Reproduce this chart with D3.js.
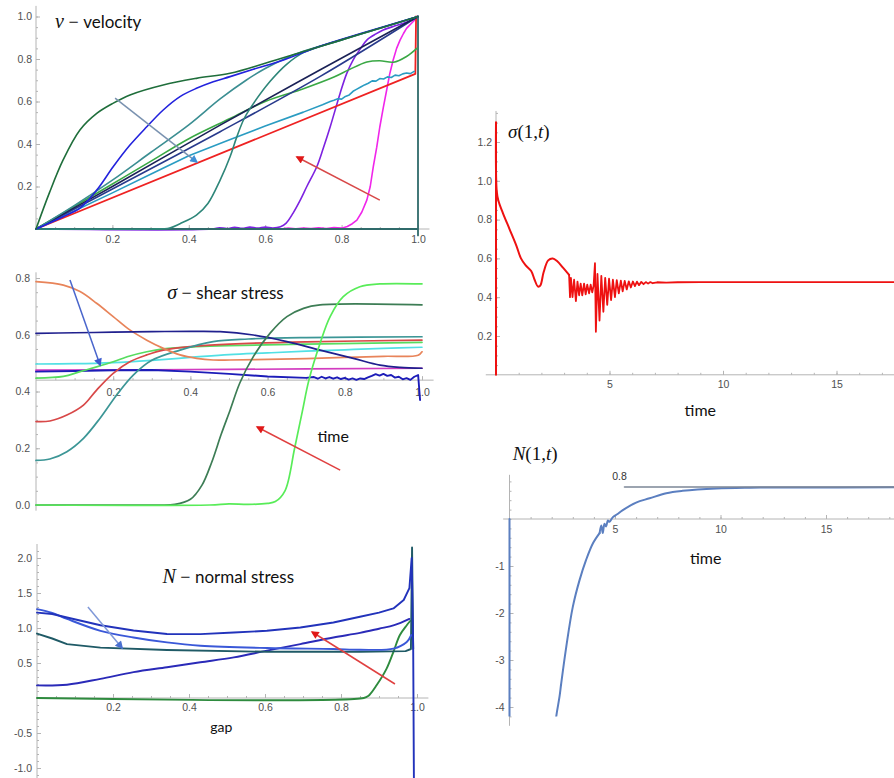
<!DOCTYPE html>
<html><head><meta charset="utf-8">
<script src="https://cdn.jsdelivr.net/npm/d3@7"></script>
<style>body{margin:0;background:#fff}svg{display:block}</style>
</head><body>
<svg id="c" width="894" height="778"></svg>
<script>
// ================= DATA =================
// Panel 1: velocity v(x) profiles across the gap
const velTicksX=[0.2,0.4,0.6,0.8,1.0];
const velTicksY=[0.2,0.4,0.6,0.8,1.0];
const velTealFlat=[[0,0],[1,0],[1,-0.03],[1,1]];
const velMagenta=[[0,0],[0.64,0],[0.66,0.004],[0.68,0.001],[0.7,0.005],[0.72,0.002],[0.74,0.006],[0.76,0.002],[0.78,0.007],[0.8,0.004],[0.815,0.012],[0.828,0.025],[0.84,0.042],[0.853,0.08],[0.866,0.136],[0.875,0.2],[0.883,0.293],[0.892,0.385],[0.9,0.48],[0.909,0.57],[0.918,0.654],[0.926,0.73],[0.935,0.795],[0.944,0.85],[0.953,0.889],[0.962,0.92],[0.97,0.944],[0.985,0.972],[0.995,0.99]];
const velPurple=[[0,0],[0.46,0],[0.48,0.006],[0.5,0.002],[0.52,0.008],[0.54,0.003],[0.56,0.009],[0.58,0.004],[0.6,0.009],[0.62,0.005],[0.64,0.011],[0.655,0.028],[0.673,0.075],[0.69,0.13],[0.709,0.2],[0.735,0.293],[0.752,0.38],[0.77,0.48],[0.796,0.638],[0.813,0.73],[0.83,0.795],[0.85,0.85],[0.866,0.889],[0.89,0.918],[0.909,0.936],[0.935,0.953],[0.962,0.968],[0.985,0.985],[1,1]];
const velDarkGreen=[[0,0],[0.035,0.17],[0.071,0.325],[0.115,0.466],[0.159,0.544],[0.2,0.59],[0.246,0.631],[0.333,0.678],[0.42,0.709],[0.508,0.733],[0.6,0.78],[0.7,0.835],[0.8,0.89],[0.9,0.945],[1,1]];
const velBlue=[[0,0],[0.071,0.058],[0.115,0.098],[0.159,0.183],[0.202,0.293],[0.246,0.395],[0.29,0.481],[0.333,0.56],[0.377,0.623],[0.42,0.662],[0.464,0.693],[0.508,0.717],[0.569,0.752],[0.65,0.797],[0.743,0.86],[0.85,0.92],[1,1]];
const velTealC=[[0,0],[0.1,0.11],[0.2,0.23],[0.3,0.36],[0.4,0.49],[0.482,0.612],[0.55,0.7],[0.6,0.755],[0.65,0.8],[0.7,0.836],[0.8,0.89],[0.9,0.945],[1,1]];
const velTealD=[[0,0],[0.3,0],[0.35,0.005],[0.377,0.025],[0.42,0.065],[0.45,0.12],[0.482,0.23],[0.508,0.34],[0.525,0.43],[0.545,0.52],[0.569,0.59],[0.613,0.695],[0.656,0.775],[0.7,0.83],[0.8,0.89],[0.9,0.945],[1,1]];
const velGreen=[[0,0],[0.1,0.106],[0.2,0.212],[0.3,0.318],[0.4,0.425],[0.508,0.52],[0.6,0.6],[0.7,0.66],[0.78,0.715],[0.82,0.75],[0.866,0.786],[0.9,0.792],[0.936,0.785],[0.97,0.812],[0.997,0.85]];
const velNavy1=[[0,0],[0.2,0.2],[0.482,0.489],[0.743,0.748],[1,1]];
const velNavy2=[[0,0],[0.2,0.188],[0.482,0.458],[0.743,0.717],[1,1]];
const velCyan=[[0,0],[0.1,0.085],[0.2,0.17],[0.3,0.258],[0.4,0.345],[0.5,0.415],[0.6,0.485],[0.7,0.55],[0.75,0.585],[0.77,0.6],[0.78,0.606],[0.79,0.613],[0.8,0.611],[0.81,0.624],[0.82,0.631],[0.83,0.648],[0.84,0.658],[0.85,0.668],[0.86,0.678],[0.87,0.686],[0.88,0.697],[0.89,0.696],[0.9,0.708],[0.91,0.706],[0.92,0.716],[0.93,0.713],[0.94,0.724],[0.95,0.721],[0.96,0.73],[0.97,0.734],[0.98,0.731],[0.99,0.742]];
const velRed=[[0,0],[0.993,0.73],[0.995,1.0]];
const velArrowBlue=[[0.207,0.616],[0.421,0.315]];
const velArrowRed=[[0.9,0.136],[0.683,0.339]];

// Panel 2: shear stress sigma(x)
const shTicksX=[0.2,0.4,0.6,0.8,1.0];
const shTicksY=[0.0,0.2,0.4,0.6,0.8];
const shOrange=[[0,0.787],[0.071,0.775],[0.114,0.752],[0.157,0.711],[0.2,0.664],[0.243,0.617],[0.287,0.581],[0.33,0.552],[0.373,0.529],[0.416,0.517],[0.459,0.511],[0.503,0.511],[0.6,0.513],[0.7,0.516],[0.8,0.52],[0.9,0.524],[0.99,0.528],[1.0,0.54]];
const shNavy=[[0,0.605],[0.1,0.607],[0.2,0.609],[0.3,0.611],[0.4,0.612],[0.477,0.611],[0.563,0.599],[0.65,0.576],[0.736,0.546],[0.822,0.517],[0.891,0.493],[0.943,0.485],[1.0,0.482]];
const shCyan=[[0,0.497],[0.1,0.498],[0.2,0.502],[0.3,0.51],[0.4,0.52],[0.5,0.53],[0.6,0.536],[0.7,0.542],[0.8,0.547],[0.9,0.552],[1.0,0.556]];
const shLightGreen=[[0,0.447],[0.071,0.453],[0.114,0.47],[0.157,0.487],[0.2,0.505],[0.243,0.525],[0.287,0.54],[0.33,0.55],[0.416,0.558],[0.5,0.562],[0.7,0.567],[1.0,0.573]];
const shRed=[[0,0.294],[0.036,0.296],[0.08,0.317],[0.123,0.352],[0.157,0.405],[0.2,0.464],[0.243,0.505],[0.287,0.529],[0.33,0.546],[0.416,0.56],[0.503,0.567],[0.7,0.575],[1.0,0.581]];
const shTeal=[[0,0.157],[0.036,0.162],[0.08,0.188],[0.123,0.235],[0.166,0.306],[0.209,0.388],[0.252,0.458],[0.3,0.51],[0.373,0.546],[0.459,0.576],[0.55,0.585],[0.7,0.59],[1.0,0.593]];
const shDarkGreen=[[0,0],[0.3,0],[0.36,0.002],[0.4,0.02],[0.43,0.07],[0.455,0.15],[0.48,0.25],[0.503,0.335],[0.528,0.43],[0.563,0.523],[0.606,0.605],[0.65,0.664],[0.693,0.693],[0.736,0.705],[1.0,0.705]];
const shBrightGreen=[[0,0],[0.45,0],[0.5,0.004],[0.55,0.002],[0.6,0.006],[0.62,0.012],[0.645,0.05],[0.67,0.2],[0.69,0.33],[0.707,0.44],[0.736,0.57],[0.762,0.664],[0.796,0.734],[0.839,0.769],[0.891,0.779],[1.0,0.779]];
const shMagenta=[[0,0.475],[0.5,0.478],[1.0,0.482]];
const shDarkBlue=[[0,0.47],[0.1,0.472],[0.2,0.475],[0.3,0.476],[0.4,0.47],[0.5,0.462],[0.6,0.453],[0.7,0.448],[0.72,0.451],[0.73,0.445],[0.74,0.452],[0.75,0.446],[0.76,0.451],[0.77,0.445],[0.78,0.45],[0.79,0.444],[0.8,0.448],[0.81,0.442],[0.82,0.446],[0.83,0.441],[0.84,0.446],[0.85,0.444],[0.86,0.45],[0.87,0.455],[0.88,0.461],[0.89,0.456],[0.9,0.462],[0.91,0.455],[0.92,0.458],[0.93,0.449],[0.94,0.452],[0.95,0.443],[0.96,0.447],[0.97,0.441],[0.98,0.452],[0.99,0.458],[0.995,0.37]];
const shArrowBlue=[[0.088,0.793],[0.166,0.493]];
const shArrowRed=[[0.788,0.123],[0.573,0.275]];

// Panel 3: normal stress N(x)
const nsTicksX=[0.2,0.4,0.6,0.8,1.0];
const nsTicksY=[-1.0,-0.5,0.5,1.0,1.5,2.0];
const nsBlueA=[[0,1.22],[0.04,1.2],[0.079,1.15],[0.167,1.04],[0.254,0.965],[0.342,0.915],[0.43,0.913],[0.518,0.936],[0.605,0.96],[0.693,1.007],[0.78,1.078],[0.85,1.16],[0.9,1.22],[0.938,1.28],[0.965,1.4],[0.98,1.57],[0.986,2.0],[0.99,0.7],[0.992,-1.3]];
const nsBlueB=[[0,1.27],[0.04,1.215],[0.079,1.13],[0.167,0.96],[0.254,0.865],[0.342,0.794],[0.43,0.747],[0.605,0.714],[0.78,0.7],[0.85,0.69],[0.938,0.705],[0.973,0.8],[0.985,0.9]];
const nsDarkTeal=[[0,0.92],[0.04,0.85],[0.079,0.77],[0.167,0.72],[0.342,0.685],[0.605,0.66],[0.85,0.66],[0.97,0.67],[0.984,0.7],[0.987,2.15],[0.99,0.7]];
const nsBlueC=[[0,0.18],[0.079,0.19],[0.167,0.274],[0.254,0.37],[0.342,0.44],[0.43,0.51],[0.518,0.58],[0.605,0.676],[0.693,0.77],[0.78,0.865],[0.85,0.93],[0.9,0.99],[0.94,1.04],[0.98,1.13]];
const nsGreen=[[0,0],[0.86,0],[0.872,0.03],[0.894,0.186],[0.92,0.42],[0.938,0.66],[0.955,0.9],[0.973,1.04],[0.982,1.1]];
const nsArrowBlue=[[0.134,1.3],[0.224,0.714]];
const nsArrowRed=[[0.942,0.2],[0.724,0.943]];

// Panel 4: sigma(1,t)
const sgTicksX=[5,10,15];
const sgTicksY=[0.2,0.4,0.6,0.8,1.0,1.2];
const sgSpike=[[0,0],[0,1.3]];
const sgDecay=[[0,1.3],[0.03,0.95],[0.1,0.9],[0.3,0.835],[0.6,0.75],[0.9,0.665],[1.1,0.6],[1.3,0.565],[1.55,0.535],[1.7,0.49],[1.85,0.455],[1.95,0.46],[2.1,0.53],[2.3,0.59],[2.5,0.6],[2.7,0.585],[2.95,0.552],[3.22,0.515]];
const sgOsc=[[3.22,0.515],[3.26,0.4],[3.3,0.5],[3.37,0.4],[3.44,0.49],[3.52,0.38],[3.59,0.48],[3.66,0.41],[3.73,0.47],[3.8,0.41],[3.88,0.47],[3.95,0.415],[4.02,0.465],[4.1,0.42],[4.17,0.465],[4.24,0.425],[4.3,0.46],[4.36,0.575],[4.4,0.222],[4.47,0.52],[4.56,0.28],[4.64,0.51],[4.73,0.325],[4.81,0.5],[4.9,0.36],[4.98,0.495],[5.07,0.385],[5.15,0.49],[5.24,0.4],[5.32,0.488],[5.41,0.42],[5.5,0.485],[5.58,0.43],[5.67,0.484],[5.76,0.44],[5.85,0.482],[5.94,0.45],[6.03,0.481],[6.12,0.457],[6.21,0.48],[6.3,0.462],[6.4,0.479],[6.5,0.467],[6.6,0.478],[6.7,0.47],[6.8,0.478],[6.9,0.472],[7.1,0.477],[7.5,0.475],[8,0.477],[9,0.478],[12,0.478],[18.5,0.478]];

// Panel 5: N(1,t)
const ntTicksX=[5,10,15];
const ntTicksY=[-1,-2,-3,-4];
const ntSpike=[[0,0],[0,-4.5]];
const ntRise=[[2.15,-4.4],[2.25,-4.1],[2.37,-3.78],[2.45,-3.5],[2.69,-2.72],[3.0,-1.87],[3.32,-1.3],[3.63,-0.87],[3.95,-0.52],[4.27,-0.3]];
const ntTail=[[4.27,-0.3],[4.35,-0.14],[4.42,-0.3],[4.5,-0.1],[4.58,-0.16],[4.66,-0.03],[4.74,-0.06],[4.9,0.04],[5.1,0.1],[5.37,0.19],[6.0,0.35],[6.64,0.44],[7.43,0.55],[8.2,0.6],[9.8,0.65],[11.4,0.666],[13,0.67],[18.5,0.674]];
const ntRefLine=[[5.45,0.68],[18.5,0.68]];
const ntRefLabel="0.8";

// ================= DRAWING =================
const svg=d3.select('#c');
svg.append('rect').attr('width',894).attr('height',778).attr('fill','#fff');
const defs=svg.append('defs');
const AX='#b4b4b4', TXT='#505050';
const SANS='Lato, "Open Sans", sans-serif';
const SERIF='"Liberation Serif", "DejaVu Serif", serif';
let mid=0;

function panel(c){
  const g=svg.append('g');
  const x=d3.scaleLinear().domain(c.xd).range(c.xr);
  const y=d3.scaleLinear().domain(c.yd).range(c.yr);
  const ax=g.append('g');
  ax.append('line').attr('x1',x(c.xLine[0])).attr('x2',x(c.xLine[1])).attr('y1',y(c.xAt)).attr('y2',y(c.xAt)).attr('stroke',AX).attr('stroke-width',1);
  ax.append('line').attr('x1',x(c.yAt)).attr('x2',x(c.yAt)).attr('y1',y(c.yLine[0])).attr('y2',y(c.yLine[1])).attr('stroke',AX).attr('stroke-width',1);
  const gxm=ax.append('g').attr('transform',`translate(0,${y(c.xAt)})`).call(d3.axisBottom(x).tickValues(c.xMinor).tickSize(-2).tickFormat(''));
  const gx=ax.append('g').attr('transform',`translate(0,${y(c.xAt)})`).call(d3.axisBottom(x).tickValues(c.xTicks).tickSize(-4).tickPadding(c.xPad).tickFormat(c.xFmt));
  const gym=ax.append('g').attr('transform',`translate(${x(c.yAt)},0)`).call(d3.axisLeft(y).tickValues(c.yMinor).tickSize(-2).tickFormat(''));
  const gy=ax.append('g').attr('transform',`translate(${x(c.yAt)},0)`).call(d3.axisLeft(y).tickValues(c.yTicks).tickSize(-4).tickPadding(c.yPad).tickFormat(c.yFmt));
  [gxm,gx,gym,gy].forEach(a=>{a.select('.domain').remove();a.selectAll('line').attr('stroke',AX);
    a.attr('font-family','"Liberation Sans", Arial, sans-serif').attr('font-size',10.5);
    a.selectAll('text').attr('fill',TXT);});
  const plot=g.append('g');
  return {g,plot,x,y};
}
function lines(p,series,w){
  series.forEach(s=>{
    p.plot.append('path').datum(s[0]).attr('fill','none').attr('stroke',s[1]).attr('stroke-width',s[2]||w)
      .attr('stroke-linejoin','round').attr('stroke-linecap','round')
      .attr('d',d3.line().x(d=>p.x(d[0])).y(d=>p.y(d[1])).curve(s[3]||d3.curveCatmullRom.alpha(0.5)));
  });
}
function arrow(p,a,color,head){
  const id='ah'+(mid++);
  defs.append('marker').attr('id',id).attr('viewBox','0 0 10 10').attr('refX',8).attr('refY',5)
    .attr('markerWidth',10).attr('markerHeight',8).attr('markerUnits','userSpaceOnUse').attr('orient','auto')
    .append('path').attr('d','M0,0L10,5L0,10z').attr('fill',head);
  p.g.append('line').attr('x1',p.x(a[0][0])).attr('y1',p.y(a[0][1])).attr('x2',p.x(a[1][0])).attr('y2',p.y(a[1][1]))
    .attr('stroke',color).attr('stroke-width',1.5).attr('marker-end',`url(#${id})`);
}
function title(p,sym,rest,xv,yv,size){
  const t=p.g.append('text').attr('x',p.x(xv)).attr('y',p.y(yv)).attr('fill','#111');
  t.append('tspan').text(sym).attr('font-family',SERIF).attr('font-style','italic').attr('font-size',size+3);
  t.append('tspan').text(' \u2212 ').attr('font-family',SERIF).attr('font-size',size+1);
  t.append('tspan').text(rest).attr('font-family',SANS).attr('font-size',size);
}
const f1=d=>d.toFixed(1), f0=d=>String(d);
const lin=d3.curveLinear;

// ---- Panel 1 ----
const p1=panel({xd:[0,1],xr:[36,418],yd:[0,1],yr:[229,16.5],xAt:0,yAt:0,xLine:[0,1.03],yLine:[0,1.05],
  xTicks:velTicksX,xMinor:d3.range(0.05,1.02,0.05),yTicks:velTicksY,yMinor:d3.range(0.05,1.04,0.05),xPad:7,yPad:4,xFmt:f1,yFmt:f1});
lines(p1,[
  [velMagenta,'#f025ea',1.6,lin],[velPurple,'#7d22e0'],[velTealFlat,'#2f6a6a',1.8,lin],
  [velRed,'#ee2222',1.8,lin],[velCyan,'#2a9cc2',1.6,lin],[velGreen,'#3aa845'],
  [velNavy2,'#283a8c'],[velNavy1,'#1a2156'],[velTealD,'#2e8679'],[velTealC,'#3b8e92'],
  [velBlue,'#2222dd'],[velDarkGreen,'#1f6e3b']
],1.6);
arrow(p1,velArrowBlue,'#7a92b0','#3f8fd6');
arrow(p1,velArrowRed,'#d84848','#e01818');
title(p1,'v','velocity',0.05,0.945,17);

// ---- Panel 2 ----
const p2=panel({xd:[0,1],xr:[36,422],yd:[0,0.8],yr:[505,278],xAt:0.44,yAt:0,xLine:[0,1.03],yLine:[-0.02,0.82],
  xTicks:shTicksX,xMinor:d3.range(0.05,1.02,0.05),yTicks:shTicksY,yMinor:d3.range(0,0.82,0.05),xPad:8,yPad:6,xFmt:f1,yFmt:f1});
lines(p2,[
  [shMagenta,'#d23cc0'],[shDarkBlue,'#1c1cb8',1.9,lin],[shCyan,'#52e0e4'],[shLightGreen,'#57dc60'],
  [shRed,'#d84848'],[shTeal,'#3c9696'],[shOrange,'#e8845a'],[shNavy,'#20208e'],
  [shDarkGreen,'#3d7d55'],[shBrightGreen,'#58ec58']
],1.7);
arrow(p2,shArrowBlue,'#4a66cc','#3a5ad0');
arrow(p2,shArrowRed,'#e04040','#e01818');
title(p2,'\u03c3','shear stress',0.34,0.725,17);
p2.g.append('text').attr('x',p2.x(0.729)).attr('y',p2.y(0.222)).text('time').attr('font-family',SANS).attr('font-size',16).attr('fill','#111');

// ---- Panel 3 ----
const p3=panel({xd:[0,1],xr:[37,417],yd:[0,2],yr:[698,558],xAt:0,yAt:0,xLine:[0,1.03],yLine:[-1.2,2.2],
  xTicks:nsTicksX,xMinor:d3.range(0.05,1.02,0.05),yTicks:nsTicksY,yMinor:d3.range(-1.1,2.15,0.1),xPad:6,yPad:5,xFmt:f1,yFmt:f1});
lines(p3,[
  [nsGreen,'#2e8b3e'],[nsBlueC,'#2a2ab8'],[nsDarkTeal,'#1f5a66',1.9,lin],[nsBlueB,'#3a58d8'],[nsBlueA,'#2233bb',1.9,lin]
],1.9);
arrow(p3,nsArrowBlue,'#7f98d8','#4a70d0');
arrow(p3,nsArrowRed,'#e04040','#e01818');
title(p3,'N','normal stress',0.33,1.65,17);
p3.g.append('text').attr('x',p3.x(0.485)).attr('y',p3.y(-0.49)).attr('text-anchor','middle').text('gap').attr('font-family',SANS).attr('font-size',14).attr('fill','#111');

// ---- Panel 4 ----
const p4=panel({xd:[0,5],xr:[496,609.5],yd:[0,1.2],yr:[374.8,142],xAt:0,yAt:0,xLine:[-0.45,18.5],yLine:[0,1.36],
  xTicks:sgTicksX,xMinor:d3.range(1,18.5,1),yTicks:sgTicksY,yMinor:d3.range(0.05,1.36,0.05),xPad:6,yPad:4,xFmt:f0,yFmt:f1});
lines(p4,[[sgSpike,'#ee1111',2,lin],[sgDecay,'#ee1111',2],[sgOsc,'#ee1111',1.8,lin]],1.8);
p4.g.append('text').attr('x',p4.x(0.53)).attr('y',p4.y(1.22)).attr('font-family',SERIF).attr('font-size',19).attr('fill','#111')
  .call(t=>{t.append('tspan').text('\u03c3').attr('font-style','italic');t.append('tspan').text('(1,');t.append('tspan').text('t').attr('font-style','italic');t.append('tspan').text(')');});
p4.g.append('text').attr('x',p4.x(9.0)).attr('y',p4.y(-0.21)).attr('text-anchor','middle').text('time').attr('font-family',SANS).attr('font-size',16).attr('fill','#111');

// ---- Panel 5 ----
const p5=panel({xd:[0,5],xr:[509.5,615],yd:[0,-1],yr:[519,566],xAt:0,yAt:0,xLine:[-0.3,18.5],yLine:[-4.4,0.94],
  xTicks:ntTicksX,xMinor:d3.range(1,18.5,1),yTicks:ntTicksY,yMinor:d3.range(-4.2,0.95,0.2),xPad:7,yPad:5,xFmt:f0,yFmt:d=>d.toFixed(0)});
defs.append('clipPath').attr('id','clipN').append('rect').attr('x',480).attr('y',440).attr('width',420).attr('height',p5.y(-4.2)-440);
p5.plot.attr('clip-path','url(#clipN)');
lines(p5,[[ntSpike,'#5b7fc0',2,lin],[ntRise,'#5b7fc0',2],[ntTail,'#5b7fc0',2],[ntRefLine,'#7c8696',1.6,lin]],2);
p5.g.append('text').attr('x',p5.x(ntRefLine[0][0])-5).attr('y',p5.y(0.82)).attr('text-anchor','middle').text(ntRefLabel)
  .attr('font-family','"Liberation Sans", Arial, sans-serif').attr('font-size',10.5).attr('fill','#333');
p5.g.append('text').attr('x',p5.x(0.15)).attr('y',p5.y(1.25)).attr('font-family',SERIF).attr('font-size',19).attr('fill','#111')
  .call(t=>{t.append('tspan').text('N').attr('font-style','italic');t.append('tspan').text('(1,');t.append('tspan').text('t').attr('font-style','italic');t.append('tspan').text(')');});
p5.g.append('text').attr('x',p5.x(9.3)).attr('y',p5.y(-0.96)).attr('text-anchor','middle').text('time').attr('font-family',SANS).attr('font-size',16).attr('fill','#111');
</script>
</body></html>
